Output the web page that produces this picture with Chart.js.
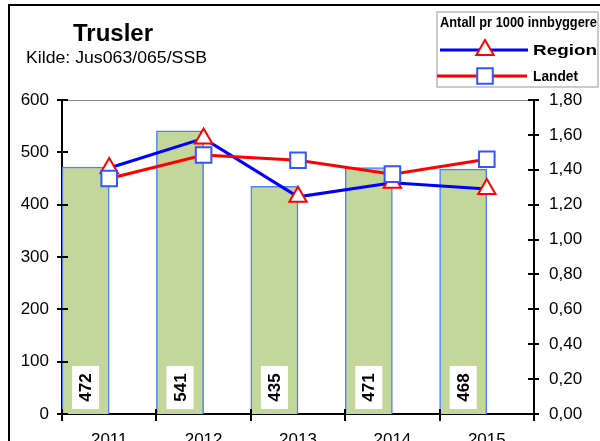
<!DOCTYPE html>
<html>
<head>
<meta charset="utf-8">
<script src="https://cdn.jsdelivr.net/npm/chart.js@4"></script>
<style>
html,body{margin:0;padding:0;background:#fff;}
#wrap{position:relative;width:600px;height:441px;overflow:hidden;}
canvas{display:block;}
</style>
</head>
<body>
<div id="wrap"><canvas id="c" width="600" height="441"></canvas></div>
<script>
const categories = ['2011', '2012', '2013', '2014', '2015'];
const antall = [472, 541, 435, 471, 468];
const region = [1.41, 1.58, 1.245, 1.325, 1.29];
const landet = [1.35, 1.485, 1.455, 1.375, 1.46];
const leftTicks = [0, 100, 200, 300, 400, 500, 600];
const rightTicks = [0, 0.2, 0.4, 0.6, 0.8, 1.0, 1.2, 1.4, 1.6, 1.8];
const titleText = 'Trusler';
const sourceText = 'Kilde: Jus063/065/SSB';
const legendTitle = 'Antall pr 1000 innbyggere';
const seriesNames = ['Region', 'Landet'];

const FONT = '"Liberation Sans", Arial, sans-serif';

const decorPlugin = {
  id: 'decor',
  beforeDraw(chart) {
    const ctx = chart.ctx;
    const a = chart.chartArea;
    ctx.save();
    ctx.fillStyle = '#fff';
    ctx.fillRect(0, 0, chart.width, chart.height);
    ctx.strokeStyle = '#000';
    ctx.lineWidth = 2;
    ctx.beginPath();
    ctx.moveTo(9, 441);
    ctx.lineTo(9, 5);
    ctx.lineTo(600, 5);
    ctx.stroke();
    ctx.strokeStyle = '#888';
    ctx.lineWidth = 1;
    ctx.beginPath();
    ctx.moveTo(a.left, a.top + 0.5);
    ctx.lineTo(a.right, a.top + 0.5);
    ctx.stroke();
    ctx.fillStyle = '#000';
    ctx.textBaseline = 'alphabetic';
    ctx.textAlign = 'left';
    ctx.font = 'bold 24px ' + FONT;
    ctx.fillText(titleText, 73, 41);
    ctx.font = '16px ' + FONT;
    ctx.save();
    ctx.translate(26, 63);
    const w = ctx.measureText(sourceText).width;
    ctx.scale(181 / w, 1);
    ctx.fillText(sourceText, 0, 0);
    ctx.restore();
    ctx.restore();
  },
  afterDatasetsDraw(chart) {
    const ctx = chart.ctx;
    const ys = chart.scales.y;
    const yr = chart.scales.y1;
    const xs = chart.scales.x;
    const a = chart.chartArea;
    ctx.save();
    const meta = chart.getDatasetMeta(2);
    const base = ys.getPixelForValue(0);
    meta.data.forEach((el, i) => {
      const cx = el.x;
      ctx.fillStyle = '#fff';
      ctx.fillRect(cx - 13.5, base - 48, 27, 43);
      ctx.save();
      ctx.translate(cx, base - 26.5);
      ctx.rotate(-Math.PI / 2);
      ctx.fillStyle = '#000';
      ctx.font = 'bold 17px ' + FONT;
      ctx.textAlign = 'center';
      ctx.textBaseline = 'middle';
      ctx.fillText(String(antall[i]), 0, 1);
      ctx.restore();
    });
    ctx.strokeStyle = '#000';
    ctx.lineWidth = 2;
    ctx.beginPath();
    leftTicks.forEach(v => {
      const y = Math.round(ys.getPixelForValue(v));
      ctx.moveTo(a.left - 5, y);
      ctx.lineTo(a.left + 6, y);
    });
    rightTicks.forEach(v => {
      const y = Math.round(yr.getPixelForValue(v));
      ctx.moveTo(a.right - 6, y);
      ctx.lineTo(a.right + 5, y);
    });
    for (let i = 0; i <= categories.length; i++) {
      const x = Math.round(xs.getPixelForValue(i - 0.5));
      ctx.moveTo(x, a.bottom - 5);
      ctx.lineTo(x, a.bottom + 7);
    }
    ctx.stroke();
    ctx.restore();
  },
  afterDraw(chart) {
    const ctx = chart.ctx;
    ctx.save();
    ctx.strokeStyle = '#bbb';
    ctx.lineWidth = 1.5;
    ctx.fillStyle = '#fff';
    ctx.fillRect(437, 12, 161, 75);
    ctx.strokeRect(437, 12, 161, 75);
    ctx.fillStyle = '#000';
    ctx.textBaseline = 'middle';
    ctx.textAlign = 'left';
    function squeezed(text, x, y, width) {
      ctx.save();
      ctx.font = 'bold 14px ' + FONT;
      const w = ctx.measureText(text).width;
      ctx.translate(x, y);
      ctx.scale(width / w, 1);
      ctx.fillText(text, 0, 0);
      ctx.restore();
    }
    squeezed(legendTitle, 440, 23, 157);
    ctx.strokeStyle = '#0000ff';
    ctx.lineWidth = 3;
    ctx.beginPath();
    ctx.moveTo(440, 50); ctx.lineTo(528, 50);
    ctx.stroke();
    ctx.fillStyle = '#fff';
    ctx.strokeStyle = '#ff0000';
    ctx.lineWidth = 2;
    Chart.helpers.drawPoint(ctx, {pointStyle: 'triangle', radius: 10, borderWidth: 2}, 485, 50);
    ctx.fillStyle = '#000';
    squeezed(seriesNames[0], 533, 51, 64);
    ctx.strokeStyle = '#ff0000';
    ctx.lineWidth = 3;
    ctx.beginPath();
    ctx.moveTo(437, 76); ctx.lineTo(527, 76);
    ctx.stroke();
    ctx.fillStyle = '#fff';
    ctx.strokeStyle = '#3355ff';
    ctx.lineWidth = 2;
    Chart.helpers.drawPoint(ctx, {pointStyle: 'rect', radius: 11, borderWidth: 2}, 485, 76);
    ctx.fillStyle = '#000';
    squeezed(seriesNames[1], 533, 77, 45);
    ctx.restore();
  }
};

new Chart(document.getElementById('c'), {
  data: {
    labels: categories,
    datasets: [
      {
        type: 'line', label: seriesNames[1], data: landet, yAxisID: 'y1', order: 1,
        borderColor: '#ff0000', borderWidth: 3, tension: 0,
        pointStyle: 'rect', pointRadius: 11, pointBorderColor: '#3355ff',
        pointBackgroundColor: '#ffffff', pointBorderWidth: 2
      },
      {
        type: 'line', label: seriesNames[0], data: region, yAxisID: 'y1', order: 2,
        borderColor: '#0000ff', borderWidth: 3, tension: 0,
        pointStyle: 'triangle', pointRadius: 10, pointBorderColor: '#ff0000',
        pointBackgroundColor: '#ffffff', pointBorderWidth: 2
      },
      {
        type: 'bar', label: 'Antall', data: antall, yAxisID: 'y', order: 3,
        backgroundColor: '#c4d79b', borderColor: '#4d7fff', borderWidth: 1.5,
        categoryPercentage: 1, barPercentage: 1
      },
      {
        type: 'bar', label: '', data: categories.map(() => null), yAxisID: 'y', order: 4,
        backgroundColor: 'rgba(0,0,0,0)', categoryPercentage: 1, barPercentage: 1
      }
    ]
  },
  options: {
    responsive: false,
    animation: false,
    devicePixelRatio: 1,
    layout: {padding: {top: 100, left: 0, right: 0, bottom: 0}},
    plugins: {legend: {display: false}, tooltip: {enabled: false}},
    scales: {
      x: {
        offset: true,
        grid: {display: false, drawTicks: false},
        border: {display: true, color: '#000', width: 2},
        ticks: {color: '#000', font: {family: FONT, size: 17}, padding: 16, maxRotation: 0},
        afterFit(s) { s.height = 27; }
      },
      y: {
        position: 'left', min: 0, max: 600,
        grid: {display: false, drawTicks: false},
        border: {display: true, color: '#000', width: 2},
        ticks: {stepSize: 100, color: '#000', font: {family: FONT, size: 17}, padding: 13},
        afterFit(s) { s.width = 62; }
      },
      y1: {
        position: 'right', min: 0, max: 1.8,
        grid: {display: false, drawTicks: false},
        border: {display: true, color: '#000', width: 2},
        ticks: {
          stepSize: 0.2, color: '#000', font: {family: FONT, size: 17}, padding: 15,
          callback: v => Number(v).toFixed(2).replace('.', ',')
        },
        afterFit(s) { s.width = 66; }
      }
    }
  },
  plugins: [decorPlugin]
});
</script>
</body>
</html>
